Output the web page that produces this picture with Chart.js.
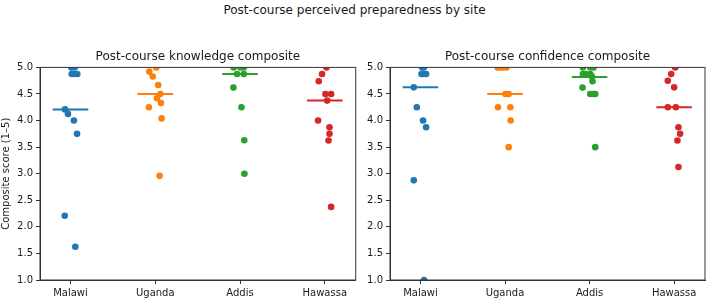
<!DOCTYPE html>
<html>
<head>
<meta charset="utf-8">
<script src="https://cdn.jsdelivr.net/npm/chart.js@4"></script>
<style>
  body { margin: 0; background: #fff; font-family: "DejaVu Sans", sans-serif; }
  #wrap { position: relative; width: 709px; height: 299px; }
  #suptitle { position: absolute; left: 0; top: 2px; width: 709px; text-align: center;
    font-size: 12px; line-height: 16px; color: #1a1a1a; }
  .panel { position: absolute; top: 0; height: 299px; }
</style>
</head>
<body>
<div id="wrap">
  <div id="suptitle">Post-course perceived preparedness by site</div>
  <div class="panel" style="left:0;width:360px"><canvas id="knowChart"></canvas></div>
  <div class="panel" style="left:360px;width:349px"><canvas id="confChart"></canvas></div>
</div>
<script>
// DATA
const sites = ["Malawi", "Uganda", "Addis", "Hawassa"];
const colors = ["#1f77b4", "#ff7f0e", "#2ca02c", "#d62728"];
const yTicks = [1.0, 1.5, 2.0, 2.5, 3.0, 3.5, 4.0, 4.5, 5.0];

// knowledge composite, per site
const knowledgeScores = [
  [5.0, 5.0, 4.875, 4.875, 4.875, 4.21, 4.125, 4.0, 3.75, 2.21, 1.625],
  [4.92, 4.83, 5.0, 4.67, 4.5, 4.42, 4.33, 4.25, 4.04, 2.96],
  [5.0, 5.0, 5.0, 4.875, 4.875, 4.62, 4.25, 3.63, 3.0],
  [5.0, 4.875, 4.74, 4.5, 4.5, 4.375, 4.0, 3.875, 3.75, 3.625, 2.375]
];
// strip jitter (category units)
const knowledgeJitter = [
  [0.01, 0.05, 0.014, 0.04, 0.08, -0.065, -0.03, 0.04, 0.077, -0.068, 0.057],
  [-0.07, -0.03, 0.012, 0.035, 0.06, 0.02, 0.067, -0.075, 0.075, 0.051],
  [-0.075, 0.005, 0.045, -0.035, 0.045, -0.078, 0.017, 0.05, 0.052],
  [0.02, -0.032, -0.071, 0.008, 0.075, 0.028, -0.079, 0.056, 0.056, 0.044, 0.075]
];
const knowledgeMedian = [4.21, 4.5, 4.875, 4.375];

// confidence composite, per site
const confidenceScores = [
  [5.0, 5.0, 4.875, 4.875, 4.875, 4.625, 4.25, 4.0, 3.875, 2.875, 1.0],
  [5.0, 5.0, 5.0, 5.0, 4.5, 4.5, 4.25, 4.25, 4.0, 3.5],
  [5.0, 5.0, 5.0, 4.875, 4.875, 4.875, 4.83, 4.74, 4.62, 4.5, 4.5, 4.5, 3.5],
  [5.0, 4.875, 4.75, 4.625, 4.25, 4.25, 3.875, 3.75, 3.625, 3.125]
];
const confidenceJitter = [
  [0.02, 0.04, 0.012, 0.04, 0.067, -0.079, -0.043, 0.031, 0.067, -0.079, 0.043],
  [-0.087, -0.055, -0.024, 0.016, 0.004, 0.043, -0.083, 0.063, 0.067, 0.043],
  [-0.079, 0.008, 0.047, -0.079, -0.043, 0.008, 0.028, 0.035, -0.083, 0.008, 0.047, 0.067, 0.067],
  [0.012, -0.035, -0.075, 0, -0.075, 0.02, 0.051, 0.071, 0.039, 0.051]
];
const confidenceMedian = [4.625, 4.5, 4.82, 4.25];

// FRAME (top + right spines)
const framePlugin = {
  id: "frame",
  afterDraw(chart) {
    const { ctx, chartArea: a } = chart;
    ctx.save();
    ctx.strokeStyle = "#333";
    ctx.lineWidth = 1;
    ctx.strokeRect(a.left, a.top, a.right - a.left, a.bottom - a.top);
    ctx.restore();
  }
};

function buildDatasets(scores, jitter, medians) {
  const sets = [];
  sites.forEach((s, i) => {
    sets.push({
      type: "scatter",
      data: scores[i].map((v, k) => ({ x: i + jitter[i][k], y: v })),
      backgroundColor: colors[i],
      borderWidth: 0,
      pointRadius: 3.3,
      clip: 0
    });
  });
  sites.forEach((s, i) => {
    sets.push({
      type: "line",
      data: [{ x: i - 0.21, y: medians[i] }, { x: i + 0.21, y: medians[i] }],
      borderColor: colors[i],
      borderWidth: 2,
      pointRadius: 0,
      showLine: true,
      clip: 0
    });
  });
  return sets;
}

function makeChart(id, title, scores, jitter, medians, yWidth, showYTitle, padRight) {
  return new Chart(document.getElementById(id), {
    type: "scatter",
    data: { datasets: buildDatasets(scores, jitter, medians) },
    options: {
      responsive: true,
      maintainAspectRatio: false,
      animation: false,
      events: [],
      layout: { padding: { top: 0, right: padRight, bottom: 0, left: 0 } },
      plugins: {
        legend: { display: false },
        tooltip: { enabled: false },
        title: {
          display: true,
          text: title,
          fullSize: false,
          color: "#1a1a1a",
          font: { family: "DejaVu Sans", size: 12, weight: "normal" },
          padding: { top: 50, bottom: 3 }
        }
      },
      scales: {
        x: {
          type: "linear",
          min: -0.36,
          max: 3.365,
          afterBuildTicks: (axis) => { axis.ticks = sites.map((s, i) => ({ value: i })); },
          afterFit: (axis) => { axis.height = 19; },
          grid: { drawOnChartArea: false, drawTicks: true, tickLength: 4, color: "#333" },
          border: { display: true, color: "#333" },
          ticks: {
            padding: 3,
            color: "#1a1a1a",
            font: { family: "DejaVu Sans", size: 10 },
            callback: (v) => sites[v]
          }
        },
        y: {
          min: 1,
          max: 5,
          afterBuildTicks: (axis) => { axis.ticks = yTicks.map(v => ({ value: v })); },
          afterFit: (axis) => { axis.width = yWidth; },
          grid: { drawOnChartArea: false, drawTicks: true, tickLength: 4, color: "#333" },
          border: { display: true, color: "#333" },
          title: {
            display: showYTitle,
            text: "Composite score (1–5)",
            color: "#1a1a1a",
            font: { family: "DejaVu Sans", size: 10 },
            padding: { top: 0, bottom: 0 }
          },
          ticks: {
            padding: 3,
            color: "#1a1a1a",
            font: { family: "DejaVu Sans", size: 10 },
            callback: (v) => v.toFixed(1)
          }
        }
      }
    },
    plugins: [framePlugin]
  });
}

makeChart("knowChart", "Post-course knowledge composite",
  knowledgeScores, knowledgeJitter, knowledgeMedian, 40, true, 4.3);
makeChart("confChart", "Post-course confidence composite",
  confidenceScores, confidenceJitter, confidenceMedian, 30, false, 3);
</script>
</body>
</html>
